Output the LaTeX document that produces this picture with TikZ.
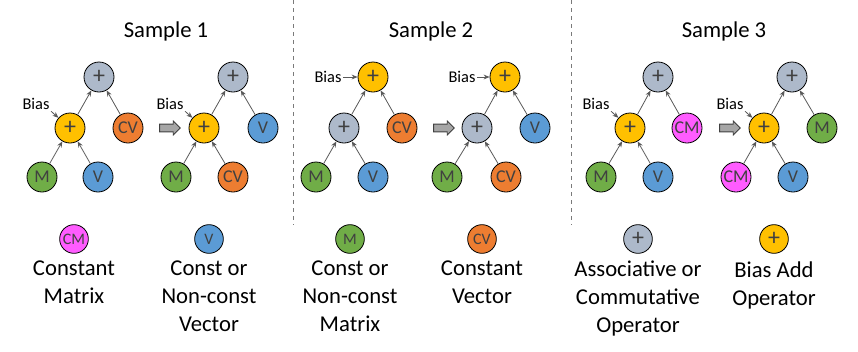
\documentclass[tikz,border=0pt]{standalone}
\usepackage{fontspec}
\setmainfont{Carlito}
\usetikzlibrary{shapes.arrows, arrows.meta, positioning}
\definecolor{exprInk}{HTML}{404040}
\definecolor{exprEdge}{HTML}{595959}
\definecolor{exprGray}{HTML}{ADB9CA}
\definecolor{exprYellow}{HTML}{FFC000}
\definecolor{exprOrange}{HTML}{ED7D31}
\definecolor{exprBlue}{HTML}{5B9BD5}
\definecolor{exprGreen}{HTML}{70AD47}
\definecolor{exprPink}{HTML}{FF5CFF}
\definecolor{exprArrow}{HTML}{A6A6A6}
\newcommand{\opsym}{{\fontsize{18}{18}\selectfont +}}

\begin{document}
\begin{tikzpicture}[
        x=0.75pt,
        y=-0.75pt,
        >={Stealth[length=4.5pt, width=3.6pt]},
        op/.style={circle, draw=black, line width=0.6pt, minimum size=22.5pt,
                   inner sep=0pt, text=exprInk, font=\fontsize{13.5}{14}\selectfont},
        addop/.style={op, fill=exprGray},
        biasop/.style={op, fill=exprYellow},
        cvec/.style={op, fill=exprOrange},
        vec/.style={op, fill=exprBlue},
        mat/.style={op, fill=exprGreen},
        cmat/.style={op, fill=exprPink},
        key/.style={minimum size=21.5pt, font=\fontsize{12}{12}\selectfont},
        edge/.style={->, draw=exprEdge, line width=0.6pt},
        biaslbl/.style={inner sep=1pt, font=\fontsize{12.3}{13}\selectfont},
        title/.style={font=\fontsize{17}{20}\selectfont},
        legend/.style={anchor=north, align=center, inner sep=0pt,
                       font=\fontsize{17}{21}\selectfont},
        rewrite/.style={single arrow, draw=exprInk, fill=exprArrow, line width=0.6pt,
                        inner sep=2.6pt, single arrow head extend=2.3pt,
                        minimum height=15.5pt},
        divider/.style={draw=exprEdge!80, dashed, line width=0.6pt}
    ]
    \useasboundingbox (0,0) rectangle (858,351);

    % Titles and dividers
    \node[title] (t1) at (166,31) {Sample 1};
    \node[title] (t2) at (431,31) {Sample 2};
    \node[title] (t3) at (724,31) {Sample 3};
    \draw[divider] (293,0) -- (293,225);
    \draw[divider] (571,0) -- (571,225);

    % Sample 1
    \node[addop]  (a1r)  at ( 99, 77) {\opsym};
    \node[biasop] (a1b)  at ( 70,128) {\opsym};
    \node[cvec]   (a1cv) at (128,128) {CV};
    \node[mat]    (a1m)  at ( 42,177) {M};
    \node[vec]    (a1v)  at ( 98,177) {V};
    \node[biaslbl] (a1bias) at (36,104) {Bias};
    \draw[edge] (a1m) -- (a1b);
    \draw[edge] (a1v) -- (a1b);
    \draw[edge] (a1b) -- (a1r);
    \draw[edge] (a1cv) -- (a1r);
    \draw[edge] (a1bias.south east) -- (a1b);

    \node[rewrite] (s1) at (168,128) {};

    \node[addop]  (b1r)  at (233, 77) {\opsym};
    \node[biasop] (b1b)  at (204,128) {\opsym};
    \node[vec]    (b1v)  at (263,128) {V};
    \node[mat]    (b1m)  at (176,177) {M};
    \node[cvec]   (b1cv) at (233,177) {CV};
    \node[biaslbl] (b1bias) at (170,104) {Bias};
    \draw[edge] (b1m) -- (b1b);
    \draw[edge] (b1cv) -- (b1b);
    \draw[edge] (b1b) -- (b1r);
    \draw[edge] (b1v) -- (b1r);
    \draw[edge] (b1bias.south east) -- (b1b);

    % Sample 2
    \node[biasop] (a2r)  at (373, 77) {\opsym};
    \node[addop]  (a2a)  at (344,128) {\opsym};
    \node[cvec]   (a2cv) at (402,128) {CV};
    \node[mat]    (a2m)  at (316,177) {M};
    \node[vec]    (a2v)  at (373,177) {V};
    \node[biaslbl] (a2bias) at (328,77) {Bias};
    \draw[edge] (a2m) -- (a2a);
    \draw[edge] (a2v) -- (a2a);
    \draw[edge] (a2a) -- (a2r);
    \draw[edge] (a2cv) -- (a2r);
    \draw[edge] (a2bias) -- (a2r);

    \node[rewrite] (s2) at (442,128) {};

    \node[biasop] (b2r)  at (505, 77) {\opsym};
    \node[addop]  (b2a)  at (477,128) {\opsym};
    \node[vec]    (b2v)  at (535,128) {V};
    \node[mat]    (b2m)  at (447,177) {M};
    \node[cvec]   (b2cv) at (506,177) {CV};
    \node[biaslbl] (b2bias) at (462,77) {Bias};
    \draw[edge] (b2m) -- (b2a);
    \draw[edge] (b2cv) -- (b2a);
    \draw[edge] (b2a) -- (b2r);
    \draw[edge] (b2v) -- (b2r);
    \draw[edge] (b2bias) -- (b2r);

    % Sample 3
    \node[addop]  (a3r)  at (658, 77) {\opsym};
    \node[biasop] (a3b)  at (630,128) {\opsym};
    \node[cmat]   (a3cm) at (687,128) {CM};
    \node[mat]    (a3m)  at (601,177) {M};
    \node[vec]    (a3v)  at (658,177) {V};
    \node[biaslbl] (a3bias) at (596,104) {Bias};
    \draw[edge] (a3m) -- (a3b);
    \draw[edge] (a3v) -- (a3b);
    \draw[edge] (a3b) -- (a3r);
    \draw[edge] (a3cm) -- (a3r);
    \draw[edge] (a3bias.south east) -- (a3b);

    \node[rewrite] (s3) at (728,128) {};

    \node[addop]  (b3r)  at (792, 77) {\opsym};
    \node[biasop] (b3b)  at (764,128) {\opsym};
    \node[mat]    (b3m)  at (822,128) {M};
    \node[cmat]   (b3cm) at (736,177) {CM};
    \node[vec]    (b3v)  at (793,177) {V};
    \node[biaslbl] (b3bias) at (730,104) {Bias};
    \draw[edge] (b3cm) -- (b3b);
    \draw[edge] (b3v) -- (b3b);
    \draw[edge] (b3b) -- (b3r);
    \draw[edge] (b3m) -- (b3r);
    \draw[edge] (b3bias.south east) -- (b3b);

    % Legend
    \node[cmat, key]   (kcm)   at ( 74,239) {CM};
    \node[vec, key]    (kv)    at (209,239) {V};
    \node[mat, key]    (km)    at (350,239) {M};
    \node[cvec, key]   (kcv)   at (482,239) {CV};
    \node[addop, key]  (kadd)  at (638,239) {\opsym};
    \node[biasop, key] (kbias) at (774,239) {\opsym};

    \node[legend] (lcm)   at ( 74,261) {Constant\\ Matrix};
    \node[legend] (lv)    at (209,261) {Const or\\ Non-const\\ Vector};
    \node[legend] (lm)    at (350,261) {Const or\\ Non-const\\ Matrix};
    \node[legend] (lcv)   at (482,261) {Constant\\ Vector};
    \node[legend] (ladd)  at (638,261) {Associative or\\ Commutative\\ Operator};
    \node[legend] (lbias) at (774,261) {Bias Add\\ Operator};

    \end{tikzpicture}
\end{document}
